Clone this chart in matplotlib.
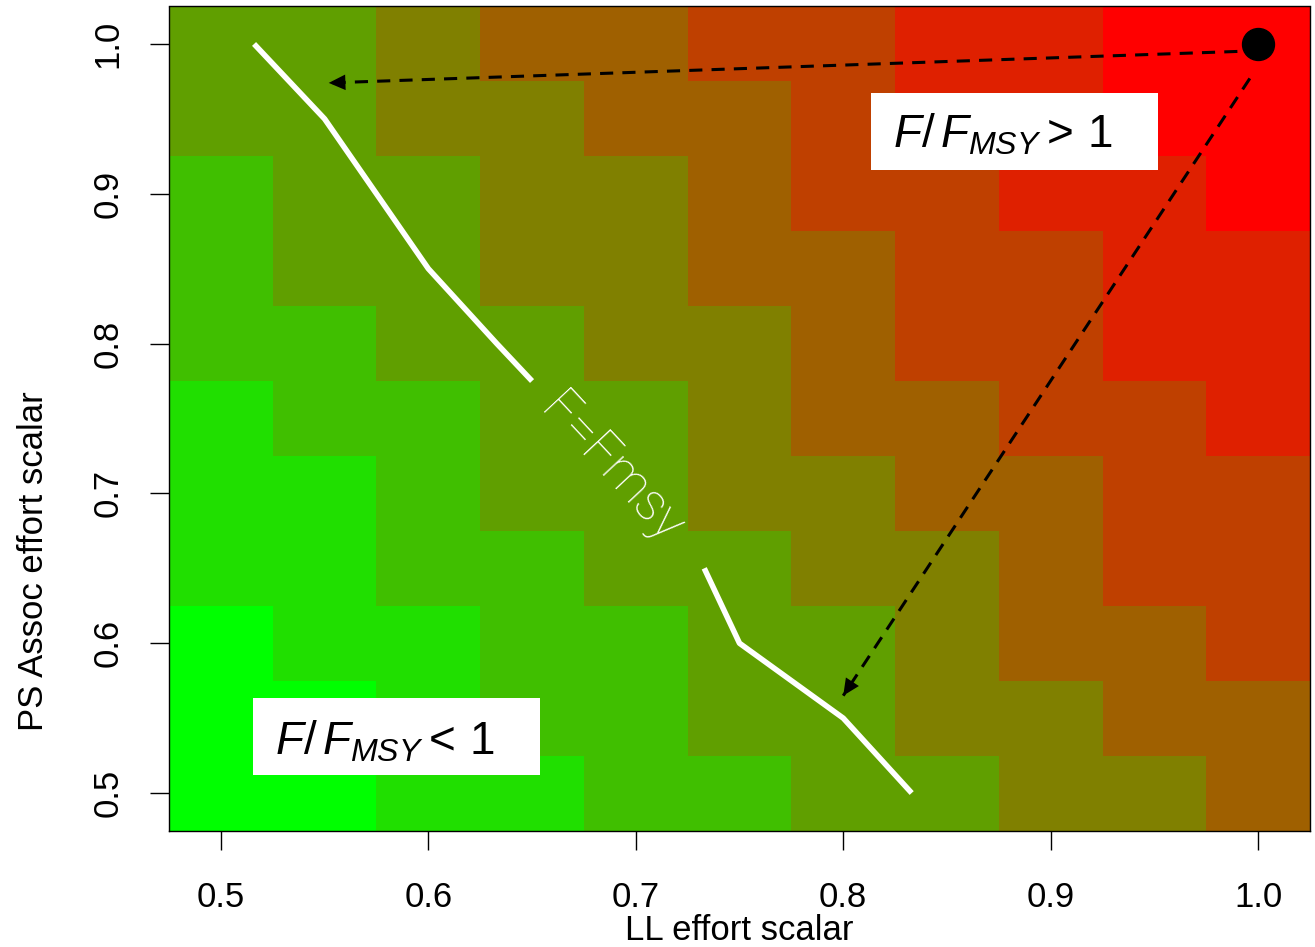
import numpy as np
import matplotlib
matplotlib.use('Agg')
import matplotlib.pyplot as plt
from matplotlib.colors import ListedColormap
from matplotlib.patches import Rectangle

plt.rcParams['font.family'] = ['Liberation Sans', 'DejaVu Sans']
plt.rcParams['mathtext.fontset'] = 'custom'
plt.rcParams['mathtext.rm'] = 'Liberation Sans'
plt.rcParams['mathtext.it'] = 'Liberation Sans:italic'
plt.rcParams['mathtext.bf'] = 'Liberation Sans:bold'

# effort scalars (cell centres)
ll_effort = [0.5, 0.55, 0.6, 0.65, 0.7, 0.75, 0.8, 0.85, 0.9, 0.95, 1.0]
ps_effort = [0.5, 0.55, 0.6, 0.65, 0.7, 0.75, 0.8, 0.85, 0.9, 0.95, 1.0]

# F/Fmsy colour class of each cell, rows from PS = 1.0 (top) down to PS = 0.5
f_class = [
    [3, 3, 4, 5, 5, 6, 6, 7, 7, 8, 8],
    [3, 3, 4, 4, 5, 5, 6, 7, 7, 8, 8],
    [2, 3, 3, 4, 4, 5, 6, 6, 7, 7, 8],
    [2, 3, 3, 4, 4, 5, 5, 6, 6, 7, 7],
    [2, 2, 3, 3, 4, 4, 5, 6, 6, 7, 7],
    [1, 2, 2, 3, 3, 4, 5, 5, 6, 6, 7],
    [1, 1, 2, 3, 3, 4, 4, 5, 5, 6, 6],
    [1, 1, 2, 2, 3, 3, 4, 4, 5, 6, 6],
    [0, 1, 1, 2, 2, 3, 3, 4, 5, 5, 6],
    [0, 0, 1, 2, 2, 3, 3, 4, 4, 5, 5],
    [0, 0, 1, 1, 2, 2, 3, 3, 4, 4, 5],
]
class_colors = ['#00FF00', '#20DF00', '#40BF00', '#609F00', '#808000',
                '#9F6000', '#BF4000', '#DF2000', '#FF0000']

# F = Fmsy contour, split where the label sits
fmsy_x1 = [0.516, 0.55, 0.575, 0.6, 0.633, 0.65]
fmsy_y1 = [1.0, 0.95, 0.9, 0.85, 0.8, 0.775]
fmsy_x2 = [0.733, 0.75, 0.8, 0.833]
fmsy_y2 = [0.65, 0.6, 0.55, 0.5]

# current effort point and the two reduction arrows
point_x, point_y = 1.0, 1.0
arrow_start = [(0.99, 0.995), (0.996, 0.977)]
arrow_end = [(0.552, 0.974), (0.80, 0.565)]

x = np.array(ll_effort)
y = np.array(ps_effort)
step = x[1] - x[0]
x_edges = np.r_[x - step / 2, x[-1] + step / 2]
y_edges = np.r_[y - step / 2, y[-1] + step / 2]

fig = plt.figure(figsize=(13.15, 9.47), dpi=100)
ax = fig.add_axes([169 / 1315, (947 - 830.5) / 947, 1141 / 1315, 824 / 947])

ax.pcolormesh(x_edges, y_edges, np.flipud(np.array(f_class)),
              cmap=ListedColormap(class_colors), vmin=-0.5, vmax=8.5,
              shading='flat')

ax.plot(fmsy_x1, fmsy_y1, color='white', lw=4, solid_capstyle='butt')
ax.plot(fmsy_x2, fmsy_y2, color='white', lw=4, solid_capstyle='butt')
ax.text(0.688, 0.716, 'F=Fmsy', color='white', fontsize=37, rotation=-47,
        ha='center', va='center', family=['Roboto', 'DejaVu Sans'],
        fontweight='light')

for (x0, y0), (x1, y1) in zip(arrow_start, arrow_end):
    ax.plot([x0, x1], [y0, y1], color='black', lw=2.2, ls=(0, (4.3, 3)))
    ax.annotate('', xy=(x1, y1), xytext=(x0, y0),
                arrowprops=dict(arrowstyle='-|>,head_length=0.6,head_width=0.28',
                                color='black', lw=0, mutation_scale=20,
                                shrinkA=0, shrinkB=0))
ax.plot(point_x, point_y, 'o', color='black', ms=23, zorder=5)

ax.add_patch(Rectangle((0.8135, 0.9159), 0.1384, 0.0514, facecolor='white',
                       edgecolor='none', zorder=4))
ax.text(0.824, 0.9306, r'$F/\,F_{MSY} >\,1$', fontsize=33, zorder=5)
ax.add_patch(Rectangle((0.5154, 0.512), 0.1384, 0.0514, facecolor='white',
                       edgecolor='none', zorder=4))
ax.text(0.526, 0.5254, r'$F/\,F_{MSY} <\,1$', fontsize=33, zorder=5)

ax.set_xlim(0.475, 1.025)
ax.set_ylim(0.475, 1.025)
ticks = [0.5, 0.6, 0.7, 0.8, 0.9, 1.0]
ax.set_xticks(ticks)
ax.set_xticklabels(['%.1f' % t for t in ticks])
ax.set_yticks(ticks)
ax.set_yticklabels(['%.1f' % t for t in ticks], rotation=90, va='center')
ax.tick_params(length=14, width=1, labelsize=25)
ax.tick_params(axis='x', pad=22)
ax.tick_params(axis='y', pad=18)
for s in ax.spines.values():
    s.set_linewidth(1)

ax.set_xlabel('LL effort scalar', fontsize=25)
ax.xaxis.set_label_coords(0.5, -0.101)
ax.set_ylabel('PS Assoc effort scalar', fontsize=25)
ax.yaxis.set_label_coords(-0.104, 0.327)

fig.savefig('out.png', dpi=100)
